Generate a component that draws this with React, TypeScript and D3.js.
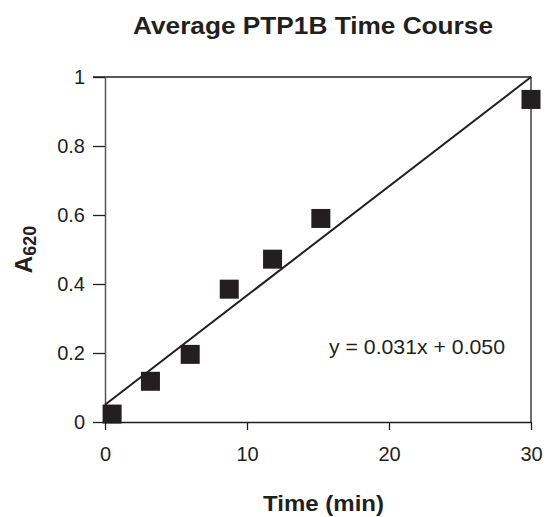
import React, { useEffect, useRef } from 'react';
import * as d3 from 'd3';

// measured data points (time in min, A620)
const times = [0.5, 3.2, 6.0, 8.75, 11.8, 15.2, 30];
const absorbance = [0.023, 0.118, 0.196, 0.385, 0.472, 0.59, 0.935];

// fitted line as drawn in the figure
const fitTimes = [0, 30];
const fitValues = [0.05, 1.0];

const xTicks = [0, 10, 20, 30];
const yTicks = [0, 0.2, 0.4, 0.6, 0.8, 1];

const title = 'Average PTP1B Time Course';
const xTitle = 'Time (min)';
const equation = 'y = 0.031x + 0.050';

const App = () => {
  const svgRef = useRef<SVGSVGElement>(null);

  useEffect(() => {
    const svg = d3.select(svgRef.current);
    svg.selectAll('*').remove();

    const width = 547;
    const height = 517;
    const margin = { top: 77, right: 16, bottom: 95, left: 105 };
    const font = 'Liberation Sans, Arial, Helvetica, sans-serif';
    const ink = '#231f20';

    svg.attr('width', width).attr('height', height).style('background', '#fff');

    const x = d3.scaleLinear()
      .domain([0, 30])
      .range([margin.left, width - margin.right]);

    const y = d3.scaleLinear()
      .domain([0, 1])
      .range([height - margin.bottom, margin.top]);

    // frame: top and right border
    svg.append('line')
      .attr('x1', x(0) - 12).attr('x2', x(30))
      .attr('y1', y(1)).attr('y2', y(1))
      .attr('stroke', ink).attr('stroke-width', 1.3);
    svg.append('line')
      .attr('x1', x(30)).attr('x2', x(30))
      .attr('y1', y(1)).attr('y2', y(0))
      .attr('stroke', ink).attr('stroke-width', 1.3);

    // y axis
    const yAxis = svg.append('g')
      .attr('transform', `translate(${margin.left},0)`)
      .call(d3.axisLeft(y).tickValues(yTicks).tickFormat(d3.format('~g')).tickSize(12).tickSizeOuter(0).tickPadding(8));
    yAxis.select('.domain').attr('stroke', '#555').attr('stroke-width', 1.5);
    yAxis.selectAll('.tick line').attr('stroke', ink).attr('stroke-width', 1.3);
    yAxis.selectAll('text')
      .attr('fill', ink)
      .style('font-family', font)
      .style('font-size', '20px');

    // x axis
    const xAxis = svg.append('g')
      .attr('transform', `translate(0,${height - margin.bottom})`)
      .call(d3.axisBottom(x).tickValues(xTicks).tickSize(8).tickSizeOuter(0).tickPadding(17));
    xAxis.select('.domain').attr('stroke', ink).attr('stroke-width', 1.3);
    xAxis.selectAll('.tick line').attr('stroke', ink).attr('stroke-width', 1.3);
    xAxis.selectAll('text')
      .attr('fill', ink)
      .style('font-family', font)
      .style('font-size', '20px');

    // fit line
    const line = d3.line<number>()
      .x((d, i) => x(fitTimes[i]))
      .y(d => y(d));
    svg.append('path')
      .datum(fitValues)
      .attr('fill', 'none')
      .attr('stroke', ink)
      .attr('stroke-width', 2)
      .attr('d', line);

    // square markers
    const size = 19;
    svg.selectAll('.dot')
      .data(times)
      .enter().append('rect')
      .attr('class', 'dot')
      .attr('x', d => x(d) - size / 2)
      .attr('y', (d, i) => y(absorbance[i]) - size / 2)
      .attr('width', size)
      .attr('height', size)
      .attr('fill', ink);

    // equation
    svg.append('text')
      .attr('x', 329)
      .attr('y', 354)
      .attr('fill', ink)
      .attr('textLength', 176)
      .attr('lengthAdjust', 'spacingAndGlyphs')
      .style('font-family', font)
      .style('font-size', '21px')
      .text(equation);

    // title
    svg.append('text')
      .attr('x', 133)
      .attr('y', 34)
      .attr('fill', ink)
      .attr('textLength', 360)
      .attr('lengthAdjust', 'spacingAndGlyphs')
      .style('font-family', font)
      .style('font-size', '23px')
      .style('font-weight', 'bold')
      .text(title);

    // x title
    svg.append('text')
      .attr('x', 263)
      .attr('y', 511)
      .attr('fill', ink)
      .attr('textLength', 121)
      .attr('lengthAdjust', 'spacingAndGlyphs')
      .style('font-family', font)
      .style('font-size', '22.5px')
      .style('font-weight', 'bold')
      .text(xTitle);

    // y title with subscript
    const yt = svg.append('text')
      .attr('transform', `translate(32,${(y(0) + y(1)) / 2}) rotate(-90)`)
      .attr('text-anchor', 'middle')
      .attr('fill', ink)
      .style('font-family', font)
      .style('font-weight', 'bold');
    yt.append('tspan').style('font-size', '24px').text('A');
    yt.append('tspan').style('font-size', '18px').attr('dy', 4).text('620');
  }, []);

  return (
    <div style={{ position: 'absolute', left: 0, top: 0 }}>
      <svg ref={svgRef}></svg>
    </div>
  );
};

export default App;
